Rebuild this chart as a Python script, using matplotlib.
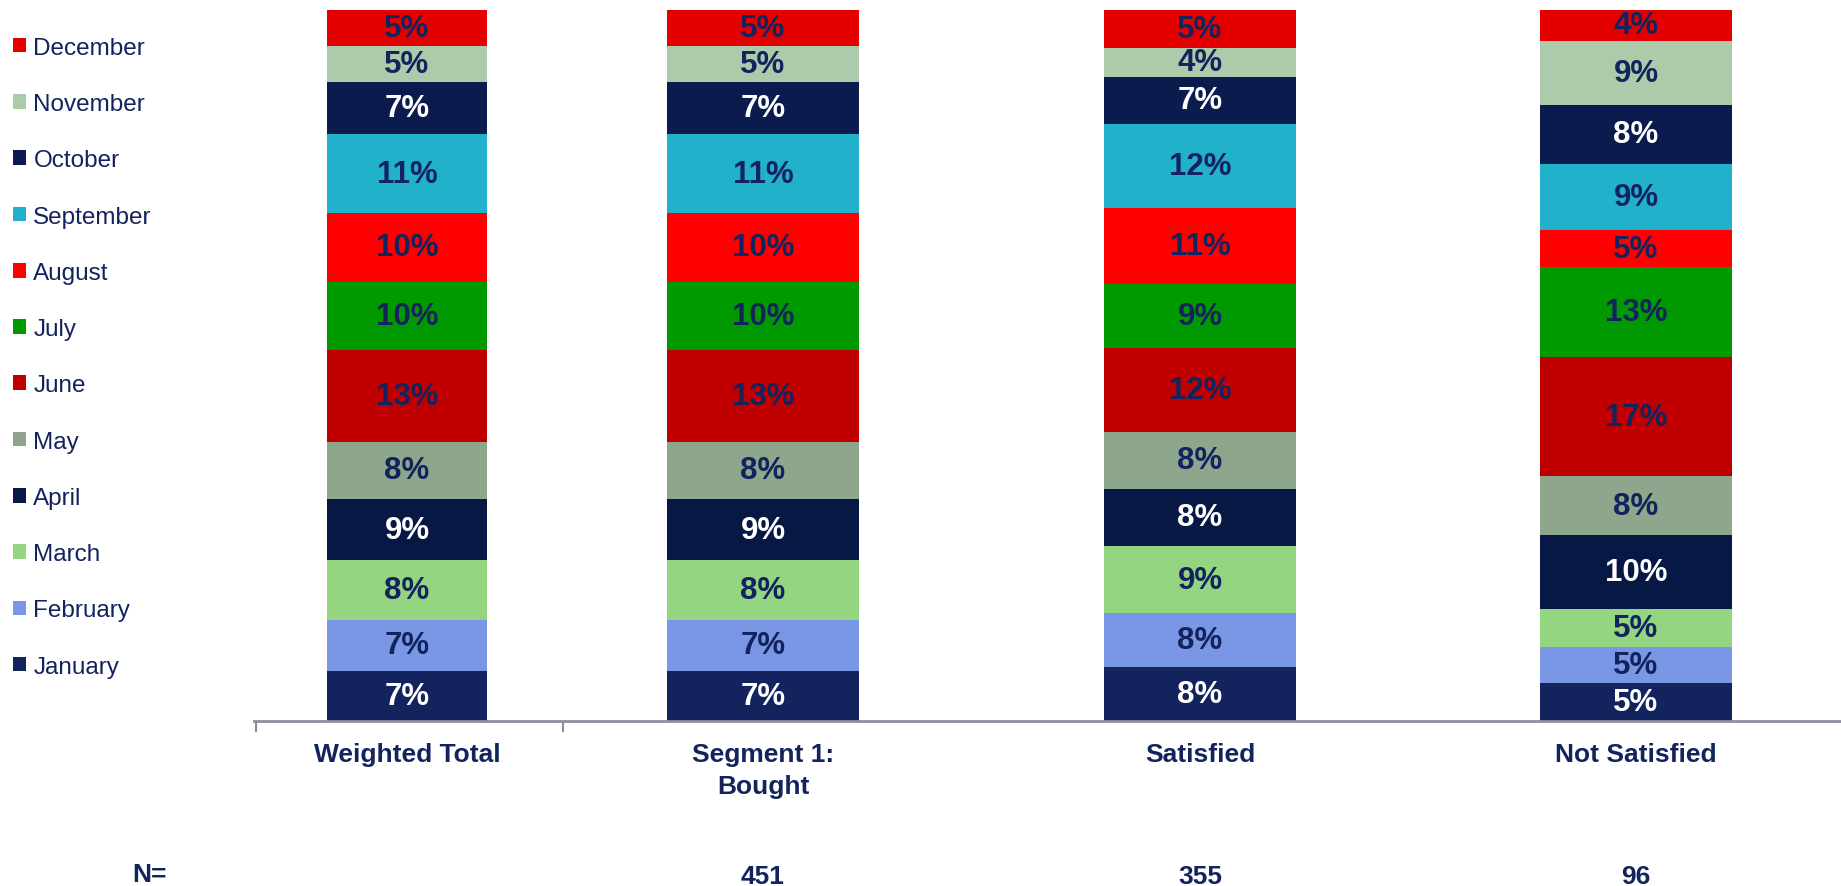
import matplotlib.pyplot as plt

months = ['January', 'February', 'March', 'April', 'May', 'June', 'July',
          'August', 'September', 'October', 'November', 'December']
groups = ['Weighted Total', 'Segment 1:\nBought', 'Satisfied', 'Not Satisfied']
n_labels = ['', '451', '355', '96']

# share per month (Jan..Dec)
weighted_total = [7.1, 7.1, 8.4, 8.6, 8.1, 12.9, 9.6, 9.6, 11.2, 7.3, 5.0, 5.1]
segment_bought = [7.1, 7.1, 8.4, 8.6, 8.1, 12.9, 9.6, 9.6, 11.2, 7.3, 5.0, 5.1]
satisfied = [7.6, 7.6, 9.4, 8.1, 7.9, 11.9, 8.9, 10.7, 11.9, 6.6, 4.1, 5.3]
not_satisfied = [5.3, 5.1, 5.3, 10.4, 8.3, 16.8, 12.6, 5.3, 9.2, 8.4, 9.0, 4.3]
series = [weighted_total, segment_bought, satisfied, not_satisfied]

colors = ['#12235E', '#7A97E6', '#93D581', '#081845', '#8EA68B', '#C00000',
          '#009A00', '#FF0000', '#22B1CB', '#0B1B4E', '#ABCBAA', '#E50000']
dark = {'January', 'April', 'October'}
navy = '#12235E'

# layout (pixel-ish units along x)
x_pos = [407, 763, 1200, 1636]
widths = [160, 192, 192, 192]

W, H = 1841, 887
fig = plt.figure(figsize=(W / 100, H / 100), dpi=100)
ax = fig.add_axes([254 / W, (H - 722) / H, 1 - 254 / W, (722 - 11) / H])
ax.set_xlim(254, W)
ax.set_ylim(0, 100)

pct_font = ['Liberation Sans', 'DejaVu Sans']
narrow_font = ['Liberation Sans Narrow', 'Liberation Sans', 'DejaVu Sans']

handles = []
for g in range(len(groups)):
    bottom = 0
    for m in range(len(months)):
        v = series[g][m]
        b = ax.bar(x_pos[g], v, width=widths[g], bottom=bottom, color=colors[m],
                   label=months[m] if g == 0 else None)
        if g == 0:
            handles.append(b)
        ax.text(x_pos[g], bottom + v / 2, f'{v:.0f}%', ha='center', va='center',
                fontsize=22.5, fontweight='bold', family=pct_font,
                color='white' if months[m] in dark else navy)
        bottom += v

for s in ['top', 'right', 'left']:
    ax.spines[s].set_visible(False)
ax.spines['bottom'].set_color('#8C8FA0')
ax.spines['bottom'].set_linewidth(2)
ax.set_yticks([])
ax.set_xticks(x_pos)
ax.set_xticklabels(groups, fontsize=19, fontweight='bold', family=narrow_font,
                   color=navy, linespacing=1.45, va='top')
ax.tick_params(axis='x', which='major', length=0, pad=15)
ax.set_xticks([256, 563], minor=True)
ax.tick_params(axis='x', which='minor', length=8, width=1.5, color='#8C8FA0')

fig.text(150 / W, 1 - 875 / H, 'N=', ha='center', va='center', fontsize=19,
         fontweight='bold', family=narrow_font, color=navy)
for g in range(len(groups)):
    if n_labels[g]:
        ax.annotate(n_labels[g], xy=(x_pos[g], 0), xycoords=('data', 'axes fraction'),
                    xytext=(0, -(877 - 722)), textcoords='offset pixels',
                    ha='center', va='center', fontsize=19, fontweight='bold',
                    family=narrow_font, color=navy)

leg = fig.legend(handles[::-1], months[::-1], loc='upper left',
                 bbox_to_anchor=(3 / W, 1 - 28 / H), frameon=False,
                 handlelength=0.55, handleheight=0.55,
                 handletextpad=0.3, labelspacing=1.41, borderaxespad=0,
                 prop={'family': pct_font, 'size': 17.5})
for t in leg.get_texts():
    t.set_color(navy)

fig.savefig('out.png', dpi=100)
